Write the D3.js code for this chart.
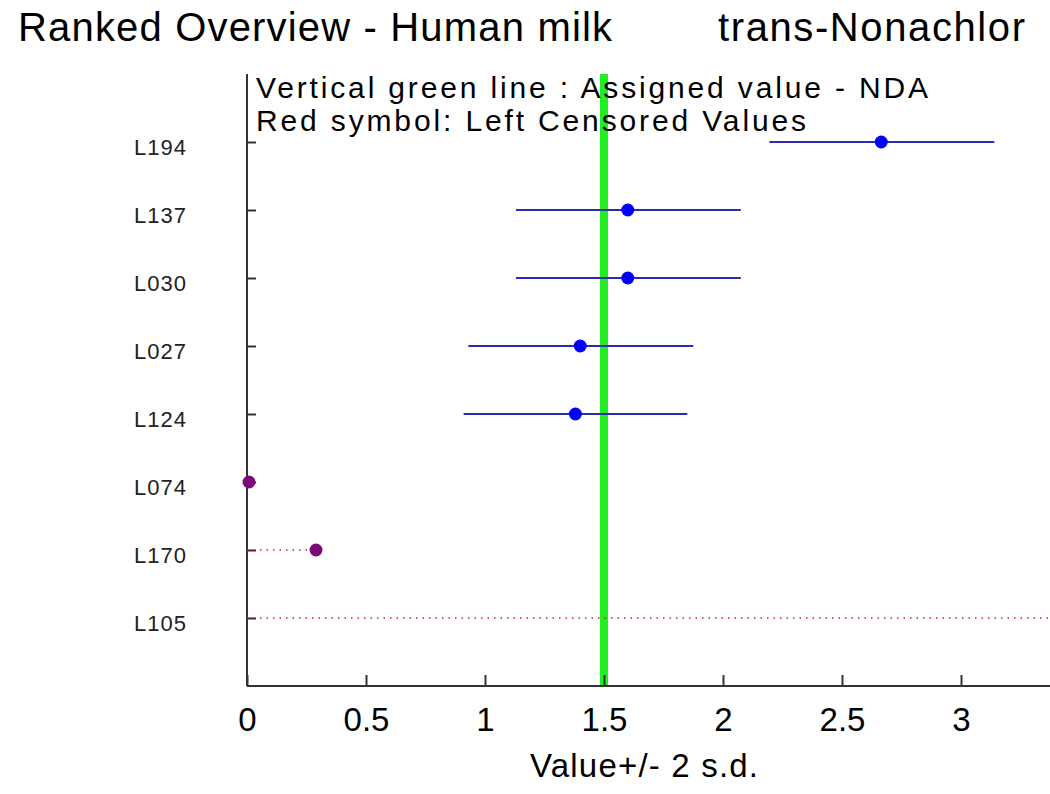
<!DOCTYPE html>
<html><head><meta charset="utf-8">
<script src="https://cdn.jsdelivr.net/npm/d3@7"></script>
<style>body{margin:0;background:#fff;} text{font-family:"Liberation Sans",Arial,sans-serif;}</style>
</head><body>
<svg id="c" width="1050" height="794"></svg>
<script>
const labs = ["L194","L137","L030","L027","L124","L074","L170","L105"];
const values = [2.665, 1.60, 1.60, 1.40, 1.38, 0.0, 0.29, null];
const lows  = [2.195, 1.13, 1.13, 0.93, 0.91, null, null, null];
const highs = [3.14, 2.075, 2.075, 1.875, 1.85, null, null, null];
const censored = [false,false,false,false,false,true,true,true];
const censorEnd = [null,null,null,null,null,null,0.29,3.4];
const assigned = 1.5;
const xTicks = [0,0.5,1,1.5,2,2.5,3];

const svg = d3.select("#c");
const x = d3.scaleLinear().domain([0,3.374]).range([247,1050]);
const y = d3.scaleLinear().domain([0,9]).range([686,74]);
const rowPos = i => labs.length - i;

// title
svg.append("text").attr("x",18).attr("y",41).attr("font-size",40)
  .attr("textLength",594).attr("lengthAdjust","spacing").text("Ranked Overview - Human milk");
svg.append("text").attr("x",718).attr("y",41).attr("font-size",40)
  .attr("textLength",307).attr("lengthAdjust","spacing").text("trans-Nonachlor");

// green assigned line
svg.append("line").attr("x1",x(assigned)).attr("x2",x(assigned)).attr("y1",y(9)).attr("y2",y(0))
  .attr("stroke","#22ee22").attr("stroke-width",8);

// axes
const gx = svg.append("g").attr("transform","translate(0,686)")
  .call(d3.axisBottom(x).tickValues(xTicks).tickSize(-11).tickPadding(22).tickFormat(d3.format("~g")));
gx.select(".domain").attr("stroke","#333").attr("stroke-width",2).attr("d","M247,0H1050");
gx.selectAll(".tick line").attr("stroke","#333").attr("stroke-width",2);
gx.selectAll(".tick text").attr("font-size",33).attr("fill","#000").attr("font-family","Liberation Sans, Arial, sans-serif");

const gy = svg.append("g").attr("transform","translate(247,0)")
  .call(d3.axisLeft(y).tickValues(labs.map((d,i)=>rowPos(i))).tickSize(-9).tickPadding(60)
    .tickFormat(v => labs[labs.length - v]));
gy.select(".domain").attr("stroke","#333").attr("stroke-width",2).attr("d","M0,74V686");
gy.selectAll(".tick line").attr("stroke","#333").attr("stroke-width",2);
gy.selectAll(".tick text").attr("font-size",22).attr("fill","#222").attr("dy","0.55em").attr("letter-spacing",1)
  .attr("font-family","Liberation Sans, Arial, sans-serif");

svg.append("text").attr("x",644).attr("y",777).attr("text-anchor","middle").attr("font-size",33)
  .attr("textLength",228).attr("lengthAdjust","spacing").text("Value+/- 2 s.d.");

// legend text
svg.append("text").attr("x",256).attr("y",98).attr("font-size",30)
  .attr("textLength",672).attr("lengthAdjust","spacing").text("Vertical green line : Assigned value -  NDA");
svg.append("text").attr("x",256).attr("y",131).attr("font-size",30)
  .attr("textLength",550).attr("lengthAdjust","spacing").text("Red symbol: Left Censored Values");

// error bars
labs.forEach((l,i)=>{
  const yy = y(rowPos(i));
  if(!censored[i]){
    svg.append("line").attr("x1",x(lows[i])).attr("x2",x(highs[i])).attr("y1",yy).attr("y2",yy)
      .attr("stroke","#2c2cb4").attr("stroke-width",2);
    svg.append("circle").attr("cx",x(values[i])).attr("cy",yy).attr("r",6.5).attr("fill","#0000ff");
  } else {
    if(censorEnd[i]!==null){
      svg.append("line").attr("x1",x(0)).attr("x2",Math.min(x(censorEnd[i]),1050)).attr("y1",yy).attr("y2",yy)
        .attr("stroke","#cc2222").attr("stroke-width",1.5).attr("stroke-dasharray","1.5,5");
    }
    if(values[i]!==null){
      svg.append("circle").attr("cx",x(values[i])+ (values[i]===0?2:0)).attr("cy",yy).attr("r",6.5).attr("fill","#7a0a7a");
    }
  }
});
</script>
</body></html>
